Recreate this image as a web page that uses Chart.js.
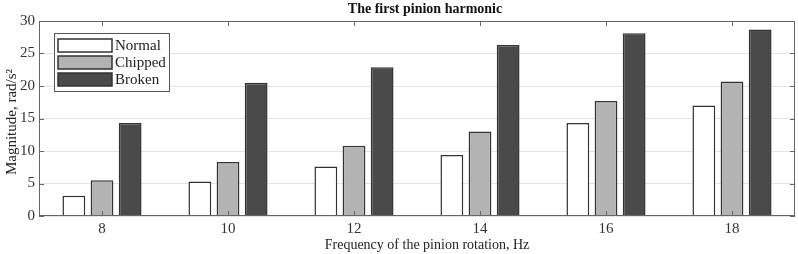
<!DOCTYPE html>
<html>
<head>
<meta charset="utf-8">
<script src="https://cdn.jsdelivr.net/npm/chart.js@4.4.1/dist/chart.umd.min.js"></script>
<style>
  html, body { margin: 0; padding: 0; background: #fff; }
  #wrap { width: 798px; height: 254px; }
</style>
</head>
<body>
<div id="wrap"><canvas id="chart" width="798" height="254"></canvas></div>
<script>
const frequencies = ["8", "10", "12", "14", "16", "18"];
const normal = [3.1, 5.3, 7.6, 9.4, 14.3, 17.0];
const chipped = [5.5, 8.3, 10.8, 13.0, 17.7, 20.7];
const broken = [14.3, 20.5, 22.9, 26.3, 28.1, 28.7];
const seriesNames = ["Normal", "Chipped", "Broken"];
const seriesColors = ["#ffffff", "#b3b3b3", "#4a4a4a"];

const serif = "'Liberation Serif', 'DejaVu Serif', serif";
const frameColor = "#666";

// MATLAB style frame, inward ticks, titles and legend box
const matlabLook = {
  id: "matlabLook",
  afterDraw(chart) {
    const ctx = chart.ctx;
    const a = chart.chartArea;
    const xs = chart.scales.x;
    const ys = chart.scales.y;
    ctx.save();
    ctx.strokeStyle = frameColor;
    ctx.lineWidth = 1;
    ctx.strokeRect(a.left + 0.5, a.top + 0.5, a.right - a.left - 1, a.bottom - a.top - 1);

    ctx.beginPath();
    ys.ticks.forEach((t) => {
      const y = Math.round(ys.getPixelForValue(t.value)) + 0.5;
      ctx.moveTo(a.left, y);
      ctx.lineTo(a.left + 5, y);
      ctx.moveTo(a.right, y);
      ctx.lineTo(a.right - 5, y);
    });
    frequencies.forEach((f, i) => {
      const x = Math.round(xs.getPixelForValue(i)) + 0.5;
      ctx.moveTo(x, a.top);
      ctx.lineTo(x, a.top + 5);
      ctx.moveTo(x, a.bottom);
      ctx.lineTo(x, a.bottom - 5);
    });
    ctx.stroke();

    ctx.textAlign = "center";
    ctx.textBaseline = "middle";

    // title
    ctx.fillStyle = "#111";
    ctx.font = "bold 14px " + serif;
    ctx.fillText("The first pinion harmonic", 425, 9);

    // axis titles
    ctx.fillStyle = "#222";
    ctx.font = "14px " + serif;
    ctx.fillText("Frequency of the pinion rotation, Hz", 427, 245);
    ctx.save();
    ctx.translate(12, 122);
    ctx.rotate(-Math.PI / 2);
    ctx.font = "15px " + serif;
    ctx.fillText("Magnitude, rad/s²", 0, 0);
    ctx.restore();

    // legend
    const lx = 54, ly = 33, lw = 115, lh = 58;
    ctx.fillStyle = "#fff";
    ctx.fillRect(lx, ly, lw, lh);
    ctx.lineWidth = 1;
    ctx.strokeStyle = "#555";
    ctx.strokeRect(lx + 0.5, ly + 0.5, lw, lh);
    ctx.font = "15px " + serif;
    ctx.textAlign = "left";
    chart.data.datasets.forEach((ds, i) => {
      const sy = 39 + i * 17;
      ctx.fillStyle = ds.backgroundColor;
      ctx.fillRect(58, sy, 54, 13);
      ctx.strokeStyle = "#333";
      ctx.lineWidth = 1.5;
      ctx.strokeRect(58, sy, 54, 13);
      ctx.fillStyle = "#222";
      ctx.fillText(ds.label, 115, sy + 7);
    });
    ctx.restore();
  }
};

new Chart(document.getElementById("chart"), {
  type: "bar",
  data: {
    labels: frequencies,
    datasets: [normal, chipped, broken].map((vals, i) => ({
      label: seriesNames[i],
      data: vals,
      backgroundColor: seriesColors[i],
      borderColor: "#333",
      borderWidth: 1.5,
      categoryPercentage: 0.67,
      barPercentage: 0.81,
    })),
  },
  options: {
    responsive: false,
    animation: false,
    layout: { padding: { top: 21, right: 3, left: 0, bottom: 0 } },
    plugins: {
      legend: { display: false },
      tooltip: { enabled: false },
    },
    scales: {
      x: {
        grid: { display: false, drawTicks: false },
        border: { display: false },
        ticks: { color: "#333", font: { family: serif, size: 15 }, padding: 4 },
        afterFit: (s) => { s.height = 38; },
      },
      y: {
        min: 0,
        max: 30,
        ticks: { stepSize: 5, color: "#333", font: { family: serif, size: 15 }, padding: 4 },
        grid: { color: "#e4e4e4", drawTicks: false },
        border: { display: false },
        afterFit: (s) => { s.width = 39; },
      },
    },
  },
  plugins: [matlabLook],
});
</script>
</body>
</html>
